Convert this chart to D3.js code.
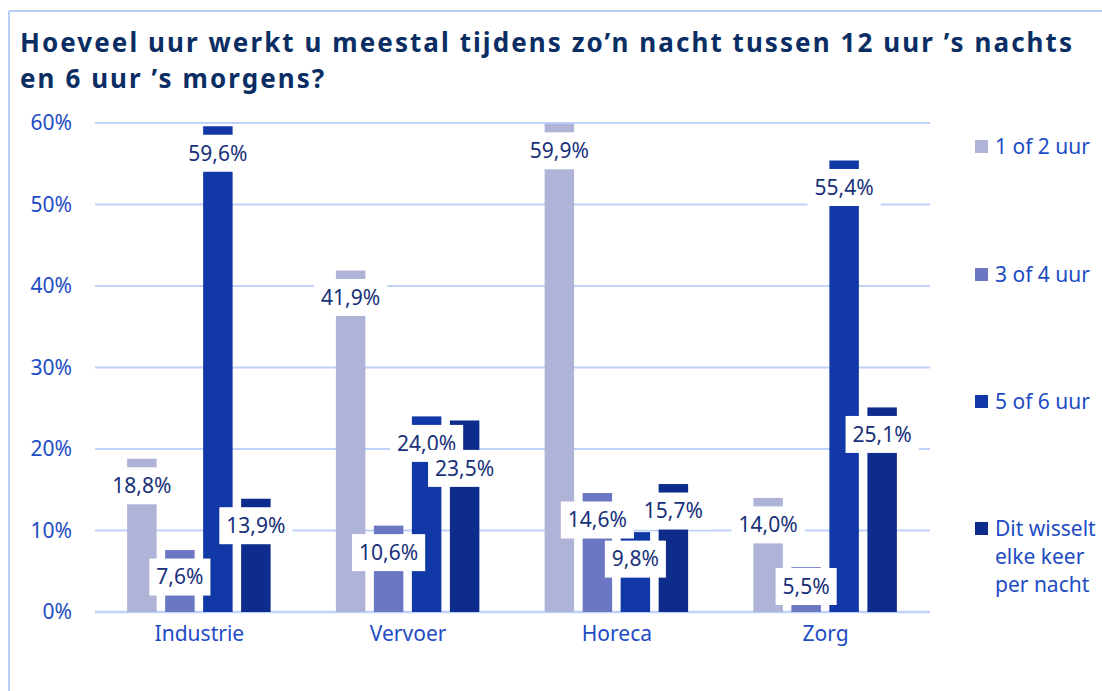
<!DOCTYPE html>
<html>
<head>
<meta charset="utf-8">
<script src="https://cdn.jsdelivr.net/npm/d3@7"></script>
<style>
  body { margin: 0; background: #fff; }
  svg { display: block; font-family: "Noto Sans", sans-serif; }
</style>
</head>
<body>
<script>
// data
var categories = ["Industrie", "Vervoer", "Horeca", "Zorg"];
var seriesNames = ["1 of 2 uur", "3 of 4 uur", "5 of 6 uur", "Dit wisselt elke keer per nacht"];
var legendLines = [["1 of 2 uur"], ["3 of 4 uur"], ["5 of 6 uur"], ["Dit wisselt", "elke keer", "per nacht"]];
var values1 = [18.8, 41.9, 59.9, 14.0];
var values2 = [7.6, 10.6, 14.6, 5.5];
var values3 = [59.6, 24.0, 9.8, 55.4];
var values4 = [13.9, 23.5, 15.7, 25.1];
var yTicks = [0, 10, 20, 30, 40, 50, 60];
var colors = ["#b0b3d8", "#6b77c3", "#1238a8", "#0d2c8c"];

var titleLines = ["Hoeveel uur werkt u meestal tijdens zo\u2019n nacht tussen 12 uur \u2019s nachts",
                  "en 6 uur \u2019s morgens?"];

var width = 1102, height = 691;
var margin = {left: 95, right: 172, top: 123, bottom: 79};

var svg = d3.select("body").append("svg")
    .attr("width", width)
    .attr("height", height);

// frame (only top & left edges show)
svg.append("line").attr("x1", 9).attr("x2", width).attr("y1", 11).attr("y2", 11)
    .attr("stroke", "#b9cdf6").attr("stroke-width", 2);
svg.append("line").attr("x1", 9).attr("x2", 9).attr("y1", 11).attr("y2", height)
    .attr("stroke", "#b9cdf6").attr("stroke-width", 2);

// title
var title = svg.append("g");
titleLines.forEach(function (t, i) {
    title.append("text")
        .attr("x", 20)
        .attr("y", 52 + i * 36)
        .attr("font-size", 26)
        .attr("font-weight", "bold")
        .attr("fill", "#0a2e63")
        .text(t);
});
// stretch the first line to the reference width with letter spacing
var first = title.select("text");
var w0 = first.node().getComputedTextLength();
var ls = (1052 - w0) / (titleLines[0].length - 1);
title.selectAll("text").attr("letter-spacing", ls);

var x0 = d3.scaleBand()
    .domain(categories)
    .range([margin.left, width - margin.right]);

var y = d3.scaleLinear()
    .domain([0, 60])
    .range([height - margin.bottom, margin.top]);

// gridlines
svg.append("g").selectAll("line")
    .data(yTicks)
    .enter().append("line")
    .attr("x1", margin.left)
    .attr("x2", width - margin.right)
    .attr("y1", function (d) { return y(d); })
    .attr("y2", function (d) { return y(d); })
    .attr("stroke", "#bed2fa")
    .attr("stroke-width", function (d) { return d === 0 ? 2.5 : 2; });

// y axis labels
var yAxis = d3.axisLeft(y).tickValues(yTicks)
    .tickFormat(function (d) { return d + "%"; })
    .tickSize(0).tickPadding(0);
var ya = svg.append("g")
    .attr("transform", "translate(72,0)")
    .call(yAxis);
ya.select(".domain").remove();
ya.selectAll("text")
    .attr("font-size", 21)
    .attr("font-family", "Noto Sans")
    .attr("fill", "#1d4cc4");

// x axis labels
var xAxis = d3.axisBottom(x0).tickSize(0).tickPadding(0);
var xa = svg.append("g")
    .attr("transform", "translate(0," + (height - margin.bottom + 14) + ")")
    .call(xAxis);
xa.select(".domain").remove();
xa.selectAll("text")
    .attr("font-size", 21)
    .attr("font-family", "Noto Sans")
    .attr("fill", "#1d4cc4");

// build rows
var allValues = [values1, values2, values3, values4];
var rows = categories.map(function (c, i) {
    return {cat: c, vals: allValues.map(function (v, s) { return {s: s, v: v[i]}; })};
});

var x1 = d3.scaleBand()
    .domain(d3.range(seriesNames.length))
    .range([-76, 76])
    .paddingInner(0.224)
    .paddingOuter(0.112);

var groups = svg.append("g").selectAll("g")
    .data(rows)
    .enter().append("g")
    .attr("transform", function (d) {
        return "translate(" + (x0(d.cat) + x0.bandwidth() / 2 - 0.5) + ",0)";
    });

groups.selectAll("rect")
    .data(function (d) { return d.vals; })
    .enter().append("rect")
    .attr("x", function (d) { return x1(d.s); })
    .attr("width", x1.bandwidth())
    .attr("y", function (d) { return y(d.v); })
    .attr("height", function (d) { return y(0) - y(d.v); })
    .attr("fill", function (d) { return colors[d.s]; });

// data labels with white boxes
var boxH = 37, baseY = y(0);
groups.each(function (row) {
    var g = d3.select(this);
    var prev = null;
    row.vals.forEach(function (d) {
        var cx = x1(d.s) + x1.bandwidth() / 2;
        var cy = Math.min(y(d.v) + 27, baseY - 7 - boxH / 2);
        var lab = g.append("g");
        var t = lab.append("text")
            .attr("x", cx)
            .attr("y", cy)
            .attr("dy", "0.35em")
            .attr("text-anchor", "middle")
            .attr("font-size", 21)
            .attr("fill", "#17307a")
            .text(d3.format(".1f")(d.v).replace(".", ",") + "%");
        var tw = t.node().getComputedTextLength();
        var bw = tw + 14;
        if (prev && Math.abs(cx - prev.cx) < (bw + prev.bw) / 2 && Math.abs(cy - prev.cy) < 25) {
            cy = prev.cy + 25;
            t.attr("y", cy);
        }
        lab.insert("rect", "text")
            .attr("x", cx - bw / 2)
            .attr("y", cy - boxH / 2)
            .attr("width", bw)
            .attr("height", boxH)
            .attr("fill", "#fff");
        prev = {cx: cx, cy: cy, bw: bw};
    });
});

// legend
var legendY = [147, 275, 402, 529];
var legend = svg.append("g").selectAll("g")
    .data(legendLines)
    .enter().append("g")
    .attr("transform", function (d, i) { return "translate(975," + legendY[i] + ")"; });

legend.append("rect")
    .attr("x", 0)
    .attr("y", -7)
    .attr("width", 13)
    .attr("height", 13)
    .attr("fill", function (d, i) { return colors[i]; });

legend.each(function (lines) {
    var g = d3.select(this);
    lines.forEach(function (l, j) {
        g.append("text")
            .attr("x", 20)
            .attr("y", j * 28)
            .attr("dy", "0.35em")
            .attr("font-size", 21)
            .attr("fill", "#1d4cc4")
            .text(l);
    });
});
</script>
</body>
</html>
